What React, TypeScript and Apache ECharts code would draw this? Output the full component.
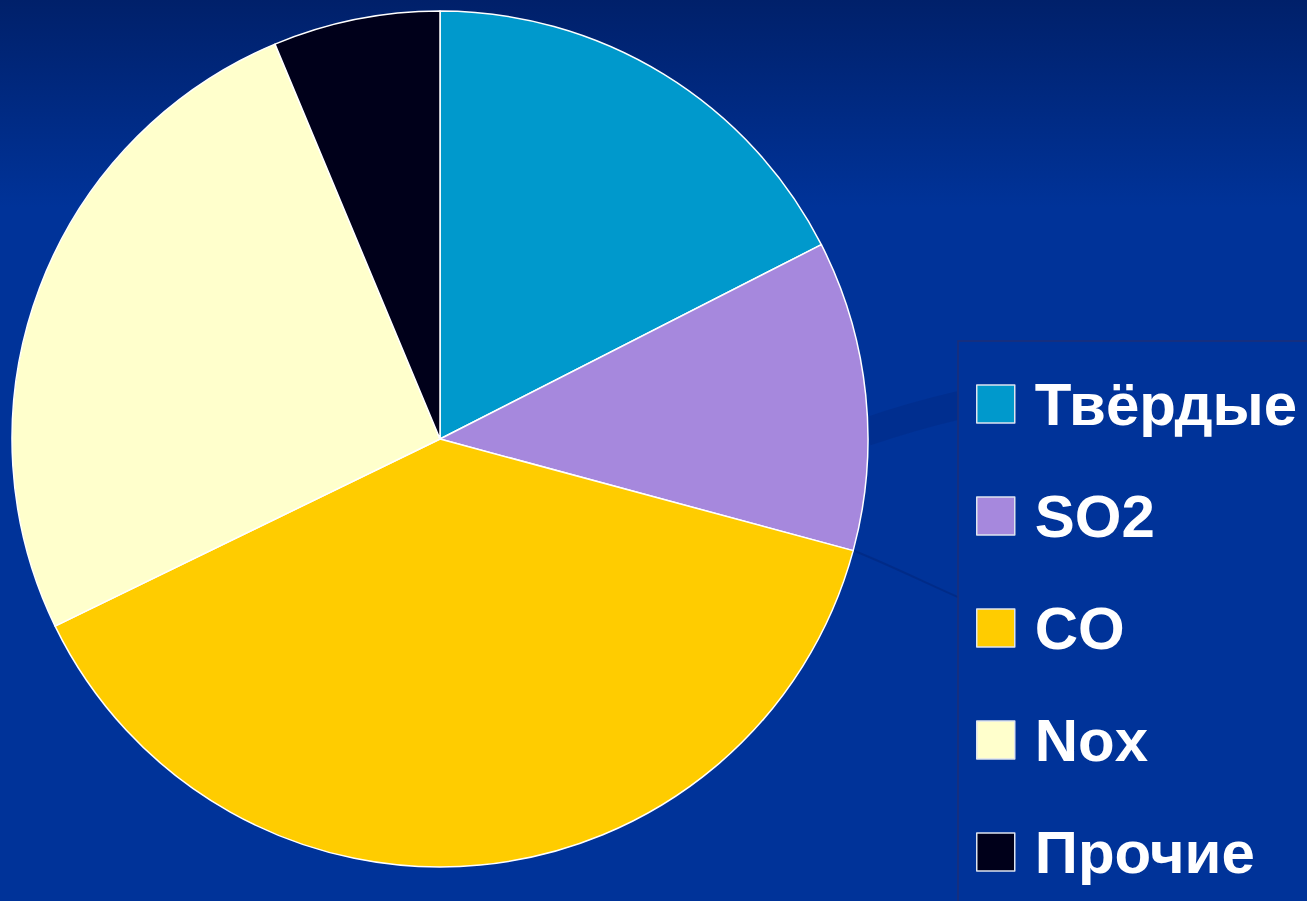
import React, { useEffect, useRef } from "react";
import * as echarts from "echarts";

const categories = ["Твёрдые", "SO2", "CO", "Nox", "Прочие"];
const values = [17.5, 11.7, 38.6, 25.9, 6.3];
const colors = ["#0099cc", "#a688dd", "#ffcc00", "#ffffcc", "#00001a"];

export default function App() {
  const ref = useRef<HTMLDivElement>(null);
  useEffect(() => {
    document.body.style.margin = "0";
    const chart = echarts.init(ref.current!, undefined, { renderer: "svg" });
    chart.setOption({
      animation: false,
      backgroundColor: {
        type: "linear",
        x: 0,
        y: 0,
        x2: 0,
        y2: 1,
        colorStops: [
          { offset: 0, color: "#00206a" },
          { offset: 0.23, color: "#003399" },
          { offset: 1, color: "#003399" },
        ],
      },
      graphic: [
        {
          type: "bezierCurve",
          shape: { x1: 866, y1: 432, x2: 960, y2: 405, cpx1: 895, cpy1: 422, cpx2: 930, cpy2: 412 },
          style: { stroke: "rgba(0,25,100,0.18)", lineWidth: 28, fill: "none" },
          silent: true,
        },
        {
          type: "bezierCurve",
          shape: { x1: 852, y1: 550, x2: 960, y2: 598, cpx1: 890, cpy1: 565, cpx2: 930, cpy2: 585 },
          style: { stroke: "rgba(0,25,100,0.3)", lineWidth: 2, fill: "none" },
          silent: true,
        },
        {
          type: "rect",
          shape: { x: 958, y: 341, width: 400, height: 620 },
          style: { fill: "#003399", stroke: "#1c2f78", lineWidth: 1.5 },
          silent: true,
          z: 1,
        },
      ],
      legend: {
        orient: "vertical",
        left: 976,
        top: 374,
        itemWidth: 38,
        itemHeight: 38,
        itemGap: 52,
        icon: "rect",
        selectedMode: false,
        padding: 0,
        z: 5,
        itemStyle: { borderColor: "#dde4f0", borderWidth: 1.5 },
        textStyle: {
          color: "#ffffff",
          fontSize: 60,
          fontWeight: "bold",
          fontFamily: "Liberation Sans, Arial, sans-serif",
          padding: [0, 0, 0, 15],
        },
        data: categories,
      },
      series: [
        {
          type: "pie",
          center: [440, 439],
          radius: [0, 428],
          startAngle: 90,
          clockwise: true,
          label: { show: false },
          labelLine: { show: false },
          emphasis: { disabled: true },
          itemStyle: { borderColor: "#ffffff", borderWidth: 1.5 },
          data: categories.map((name, i) => ({
            name,
            value: values[i],
            itemStyle: { color: colors[i] },
          })),
        },
      ],
    });
    return () => chart.dispose();
  }, []);
  return <div ref={ref} style={{ position: "fixed", left: 0, top: 0, width: "100vw", height: "100vh" }} />;
}
